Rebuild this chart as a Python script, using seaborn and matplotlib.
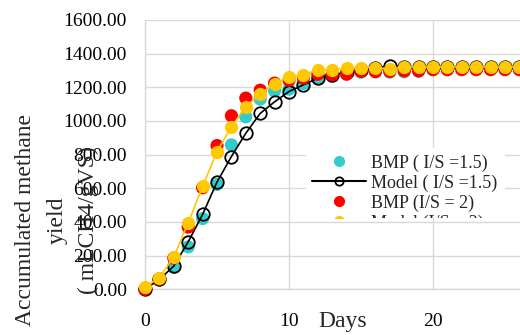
import matplotlib
matplotlib.use("Agg")
import matplotlib.pyplot as plt
import seaborn as sns
import pandas as pd
from matplotlib.lines import Line2D
from matplotlib.transforms import Bbox

days = list(range(27))
bmp_15 = [0, 55, 130, 252, 420, 623, 858, 1025, 1130, 1179, 1189, 1222, 1250, 1265, 1280,
          1290, 1293, 1290, 1292, 1295, 1305, 1305, 1308, 1308, 1308, 1308, 1308]
model_15 = [0, 59, 138, 282, 445, 637, 789, 927, 1045, 1114, 1175, 1215, 1254, 1275, 1290,
            1305, 1315, 1328, 1318, 1318, 1318, 1318, 1318, 1318, 1318, 1318, 1318]
bmp_2 = [0, 60, 185, 370, 603, 854, 1031, 1136, 1183, 1225, 1242, 1255, 1278, 1274, 1278,
         1295, 1293, 1295, 1298, 1298, 1305, 1305, 1305, 1305, 1305, 1305, 1305]
model_2 = [15, 69, 193, 394, 611, 818, 966, 1085, 1160, 1222, 1262, 1274, 1302, 1302, 1314,
           1317, 1317, 1310, 1321, 1321, 1321, 1321, 1321, 1321, 1321, 1321, 1321]

labels = ["BMP ( I/S =1.5)", "Model ( I/S =1.5)", "BMP (I/S = 2)", "Model (I/S = 2)"]
yticks = [0, 200, 400, 600, 800, 1000, 1200, 1400, 1600]
xticks = [0, 10, 20]

df = pd.DataFrame({"day": days, "bmp15": bmp_15, "model15": model_15,
                   "bmp2": bmp_2, "model2": model_2})

C_CYAN = "#33CCCC"
C_RED = "#FF0000"
C_GOLD = "#FFC800"
GRID = "#D9D9D9"

sns.set_style("white")
plt.rcParams["font.family"] = ["Liberation Serif", "DejaVu Serif"]

W, H = 520, 335
fig = plt.figure(figsize=(W / 100, H / 100), dpi=100)
ax = fig.add_axes([145 / W, (H - 289.3) / H, 432 / W, 269.3 / H])

sns.scatterplot(data=df, x="day", y="bmp15", ax=ax, color=C_CYAN, s=90,
                edgecolor="none", linewidth=0, clip_on=False, zorder=3, legend=False)
sns.lineplot(data=df, x="day", y="model15", ax=ax, color="black", lw=1.2,
             marker="o", markersize=9, markerfacecolor="none", markeredgecolor="black",
             markeredgewidth=1.3, clip_on=False, zorder=4, legend=False)
sns.scatterplot(data=df, x="day", y="bmp2", ax=ax, color=C_RED, s=90,
                edgecolor="none", linewidth=0, clip_on=False, zorder=5, legend=False)
sns.lineplot(data=df, x="day", y="model2", ax=ax, color=C_GOLD, lw=1.2,
             marker="o", markersize=9.5, markerfacecolor=C_GOLD, markeredgecolor=C_GOLD,
             markeredgewidth=0, clip_on=False, zorder=6, legend=False)

ax.set_xlim(0, 30)
ax.set_ylim(0, 1600)
ax.set_xticks(xticks)
ax.set_yticks(yticks)
ax.set_yticklabels([f"{v:.2f}" for v in yticks])
ax.set_xlabel("")
ax.set_ylabel("")
ax.tick_params(axis="both", length=0, labelsize=14, colors="black")
ax.tick_params(axis="y", pad=13)
ax.tick_params(axis="x", pad=17)
ax.xaxis.grid(True, color=GRID, lw=1.0)
ax.yaxis.grid(True, color=GRID, lw=1.0)
ax.axvline(30, color=GRID, lw=1.0, zorder=0)
ax.set_axisbelow(True)
for s in ["top", "right"]:
    ax.spines[s].set_visible(False)
for s in ["left", "bottom"]:
    ax.spines[s].set_color(GRID)
    ax.spines[s].set_linewidth(1.0)

fig.text(343 / W, 1 - 322 / H, "Days", fontsize=17, ha="center", va="center")
fig.text(57 / W, 1 - 220 / H, "Accumulated methane\nyield\n( mLCH4/gVS)", fontsize=17,
         rotation=90, ha="center", va="center", multialignment="center", linespacing=1.65)

handles = [
    Line2D([], [], ls="none", marker="o", color=C_CYAN, markersize=7),
    Line2D([], [], color="black", lw=1.5, marker="o", markersize=6,
           markerfacecolor="none", markeredgewidth=1.3),
    Line2D([], [], ls="none", marker="o", color=C_RED, markersize=7),
    Line2D([], [], color=C_GOLD, lw=1.5, marker="o", markersize=7),
]
leg = fig.legend(handles, labels, loc="upper left",
                 bbox_to_anchor=(306 / W, 1 - 148 / H), bbox_transform=fig.transFigure,
                 fontsize=13, frameon=True, fancybox=False, framealpha=1,
                 edgecolor="white", facecolor="white", borderpad=0.35,
                 handlelength=3.0, handletextpad=0.25, labelspacing=0.15,
                 borderaxespad=0)
clip = Bbox.from_extents(0, H - 218, W, H)
leg.legendPatch.set_clip_box(clip)
leg.legendPatch.set_clip_on(True)
for t in leg.get_texts():
    t.set_clip_box(clip)
    t.set_clip_on(True)
for h in leg.legend_handles:
    h.set_clip_box(clip)
    h.set_clip_on(True)

fig.savefig("out.png", dpi=100)
